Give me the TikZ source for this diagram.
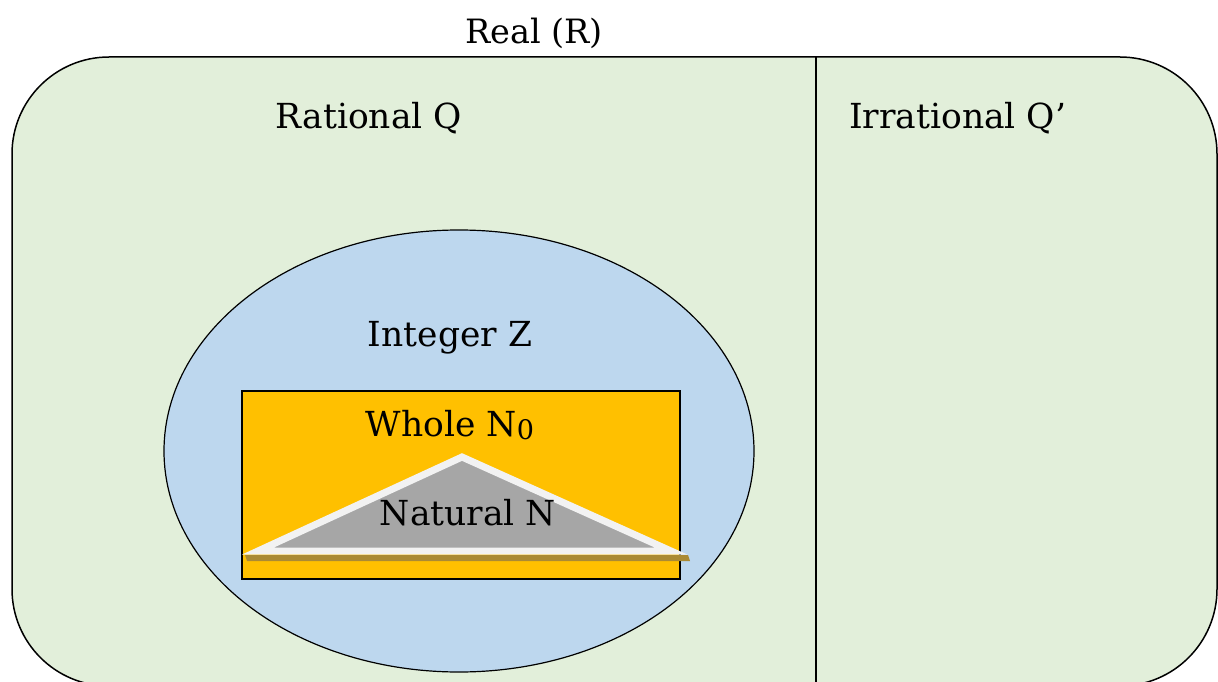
\documentclass[tikz,border=0pt]{standalone}
\usepackage{fontspec}
\setmainfont{DejaVu Serif}
\definecolor{realfill}{HTML}{E2EFDA}
\definecolor{intfill}{HTML}{BDD7EE}
\definecolor{wholefill}{HTML}{FFC000}
\definecolor{natfill}{HTML}{A6A6A6}
\definecolor{natline}{HTML}{F2F2F2}
\definecolor{shadowc}{HTML}{AA8A34}
\tikzset{
  lbl/.style={font=\fontsize{34.5}{38}\selectfont, inner sep=0pt, text=black},
}
\begin{document}
\begin{tikzpicture}[x=1pt,y=-1pt]
\useasboundingbox (0,0) rectangle (1218,682);
\clip (0,0) rectangle (1218,682);
% Real set
\draw[fill=realfill, line width=1.5pt, rounded corners=97pt] (12,57) rectangle (1217,686);
\coordinate (divtop) at (816,57);
\coordinate (divbot) at (816,686);
\draw[line width=1.2pt] (divtop) -- (divbot);
% Integer ellipse
\draw[fill=intfill, line width=1.2pt] (459,451) ellipse [x radius=295, y radius=221];
% Whole rectangle
\draw[fill=wholefill, line width=1.2pt] (242,391) rectangle (680,579);
% shadow of triangle base
\fill[shadowc] (245,555) -- (688,555) -- (690,561) -- (247,561) -- cycle;
% Natural triangle
\draw[fill=natfill, draw=natline, line width=7pt, line join=miter, miter limit=10] (462,457) -- (671,551) -- (258,551) -- cycle;
% labels
\node[lbl, font=\fontsize{33.5}{37}\selectfont] (real) at (534,33) {Real (R)};
\node[lbl] (rat) at (369,118) {Rational Q};
\node[lbl] (irr) at (958,118) {Irrational Q’};
\node[lbl] (int) at (450,338) {Integer Z};
\node[lbl] (whole) at (450,425) {Whole N\raisebox{-3pt}{\fontsize{27}{29}\selectfont 0}};
\node[lbl] (nat) at (468,513) {Natural N};
\end{tikzpicture}
\end{document}
